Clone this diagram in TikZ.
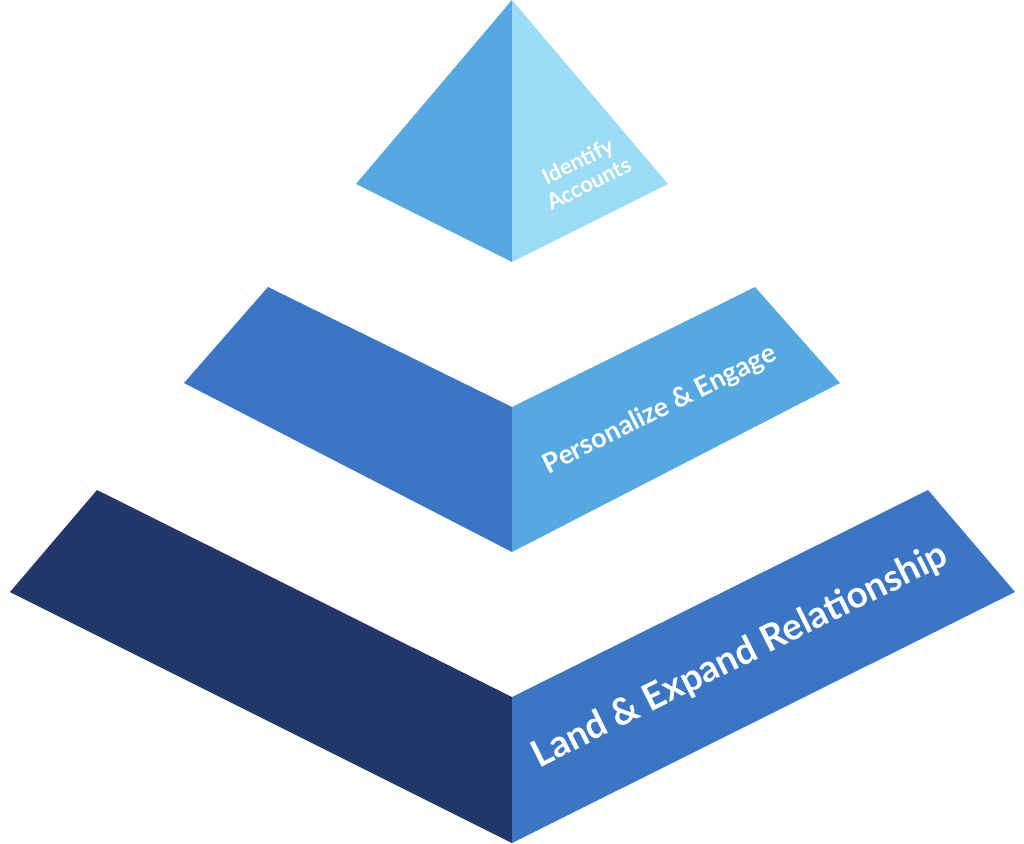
\documentclass[tikz,border=0pt]{standalone}
\usepackage{fontspec}
\setmainfont{Lato}
\definecolor{cA}{HTML}{9DDCF5}
\definecolor{cB}{HTML}{55A8E0}
\definecolor{cC}{HTML}{3A76C4}
\definecolor{cD}{HTML}{23376A}
\tikzset{lbl/.style={text=white,font=\bfseries,align=center,inner sep=0pt}}
\begin{document}
\begin{tikzpicture}[x=1pt,y=-1pt]
\useasboundingbox (0,0) rectangle (1024,843);
% top
\fill[cB] (512,0) -- (356,184) -- (512,262) -- cycle;
\fill[cA] (512,0) -- (668,184) -- (512,262) -- cycle;
% middle
\fill[cC] (268,287) -- (184,383) -- (512,552) -- (512,407) -- cycle;
\fill[cB] (512,407) -- (755,287) -- (840,383) -- (512,552) -- cycle;
% bottom
\fill[cD] (97,490) -- (10,592) -- (512,843) -- (512,697) -- cycle;
\fill[cC] (512,697) -- (928,490) -- (1015,592) -- (512,843) -- cycle;
\node[lbl,rotate=26.5,font=\bfseries\fontsize{22}{25}\selectfont] (t) at (583,172) {Identify\\Accounts};
\node[lbl,rotate=26.5,font=\bfseries\fontsize{27}{30}\selectfont] (m) at (660,410) {Personalize \& Engage};
\node[lbl,rotate=26.5,font=\bfseries\fontsize{37}{42}\selectfont] (b) at (740,656) {Land \& Expand Relationship};
\end{tikzpicture}
\end{document}
